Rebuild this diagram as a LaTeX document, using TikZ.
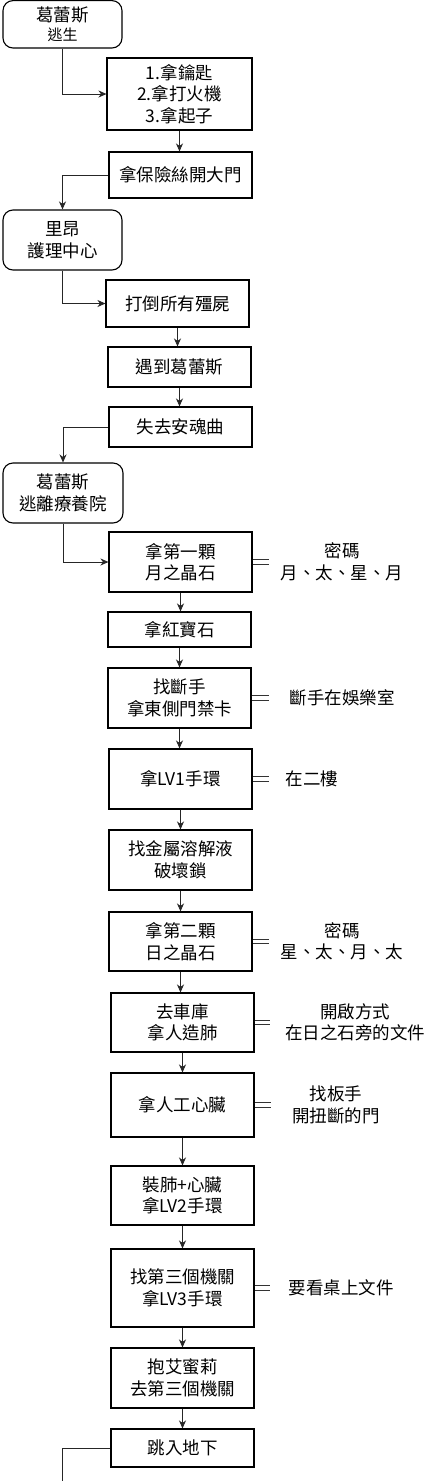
\documentclass[tikz,border=0pt]{standalone}
\usepackage{fontspec}
\setmainfont{Noto Sans CJK TC}
\usetikzlibrary{arrows.meta}
\tikzset{
  txt/.style={font=\fontsize{17.5}{21.5}\selectfont, align=center, inner sep=0pt},
  stepbox/.style={txt, draw=black, line width=1.1pt, rectangle},
  roundbox/.style={stepbox, rounded corners=10pt},
  note/.style={txt, anchor=west},
  flow/.style={draw=black!85, line width=0.9pt, -{Stealth[length=8pt,width=7pt,inset=2.5pt]}},
  plain/.style={draw=black!85, line width=0.9pt},
  linkline/.style={draw=black!80, line width=0.8pt, double=white, double distance=3.6pt}
}
\newcommand{\bx}[7]{% style, name, x1, x2, y1, y2, text
  \node[#1, minimum width={#4-#3}, minimum height={#6-#5}] (#2) at ({(#3+#4)/2},{(#5+#6)/2}) {#7};}
\begin{document}
\begin{tikzpicture}[x=1pt,y=-1pt]
\useasboundingbox (0,0) rectangle (441,1481);
\fill[white] (0,0) rectangle (441,1481);

\bx{roundbox}{b1}{3}{122}{0.6}{48}{葛蕾斯\\[-3pt]{\fontsize{15}{18}\selectfont 逃生}}
\bx{stepbox}{b2}{107}{252}{58}{130}{1.拿鑰匙\\2.拿打火機\\3.拿起子}
\bx{stepbox}{b3}{109}{252}{152}{198}{拿保險絲開大門}
\bx{roundbox}{b4}{3}{122}{210}{270}{里昂\\護理中心}
\bx{stepbox}{b5}{106}{249}{280}{327}{打倒所有殭屍}
\bx{stepbox}{b6}{108}{251}{347}{387}{遇到葛蕾斯}
\bx{stepbox}{b7}{109}{252}{407}{447}{失去安魂曲}
\bx{roundbox}{b8}{3}{123}{463}{523}{葛蕾斯\\逃離療養院}
\bx{stepbox}{b9}{109}{252}{532}{592}{拿第一顆\\月之晶石}
\bx{stepbox}{b10}{108}{251}{612}{647}{拿紅寶石}
\bx{stepbox}{b11}{108}{251}{668}{728}{找斷手\\拿東側門禁卡}
\bx{stepbox}{b12}{109}{252}{749}{809}{拿LV1手環}
\bx{stepbox}{b13}{109}{252}{830}{890}{找金屬溶解液\\破壞鎖}
\bx{stepbox}{b14}{109}{252}{912}{971}{拿第二顆\\日之晶石}
\bx{stepbox}{b15}{111}{254}{993}{1052}{去車庫\\拿人造肺}
\bx{stepbox}{b16}{111}{254}{1073}{1137}{拿人工心臟}
\bx{stepbox}{b17}{111}{254}{1166}{1225}{裝肺+心臟\\拿LV2手環}
\bx{stepbox}{b18}{111}{254}{1249}{1327}{找第三個機關\\拿LV3手環}
\bx{stepbox}{b19}{111}{254}{1348}{1408}{抱艾蜜莉\\去第三個機關}
\bx{stepbox}{b20}{111}{254}{1429}{1467}{跳入地下}

% notes
\node[note, minimum width=146pt] (l9) at (269,562) {密碼\\月、太、星、月};
\node[note, minimum width=146pt] (l11) at (269,698) {斷手在娛樂室};
\node[note, minimum width=86pt] (l12) at (269,779) {在二樓};
\node[note, minimum width=146pt] (l14) at (269,941.5) {密碼\\星、太、月、太};
\node[note, minimum width=170pt] (l15) at (270,1022.5) {開啟方式\\在日之石旁的文件};
\node[note, minimum width=130pt] (l16) at (271,1105) {找板手\\開扭斷的門};
\node[note, minimum width=142pt] (l18) at (270,1288) {要看桌上文件};

\draw[linkline] (b9.east) -- (l9.west);
\draw[linkline] (b11.east) -- (l11.west);
\draw[linkline] (b12.east) -- (l12.west);
\draw[linkline] (b14.east) -- (l14.west);
\draw[linkline] (b15.east) -- (l15.west);
\draw[linkline] (b16.east) -- (l16.west);
\draw[linkline] (b18.east) -- (l18.west);

% connectors
\draw[flow] (b1.south) |- (b2.west);
\draw[flow] (b2.south) -- (b2.south |- b3.north);
\draw[flow] (b3.west) -| (b4.north);
\draw[flow] (b4.south) |- (b5.west);
\draw[flow] (b5.south) -- (b5.south |- b6.north);
\draw[flow] (b6.south) -- (b6.south |- b7.north);
\draw[flow] (b7.west) -| (b8.north);
\draw[flow] (b8.south) |- (b9.west);
\draw[flow] (b9.south) -- (b9.south |- b10.north);
\draw[flow] (b10.south) -- (b10.south |- b11.north);
\draw[flow] (b11.south) -- (b11.south |- b12.north);
\draw[flow] (b12.south) -- (b12.south |- b13.north);
\draw[flow] (b13.south) -- (b13.south |- b14.north);
\draw[flow] (b14.south) -- (b14.south |- b15.north);
\draw[flow] (b15.south) -- (b15.south |- b16.north);
\draw[flow] (b16.south) -- (b16.south |- b17.north);
\draw[flow] (b17.south) -- (b17.south |- b18.north);
\draw[flow] (b18.south) -- (b18.south |- b19.north);
\draw[flow] (b19.south) -- (b19.south |- b20.north);
\coordinate (exit) at (62,1481);
\draw[plain] (b20.west) -| (exit);
\end{tikzpicture}
\end{document}
